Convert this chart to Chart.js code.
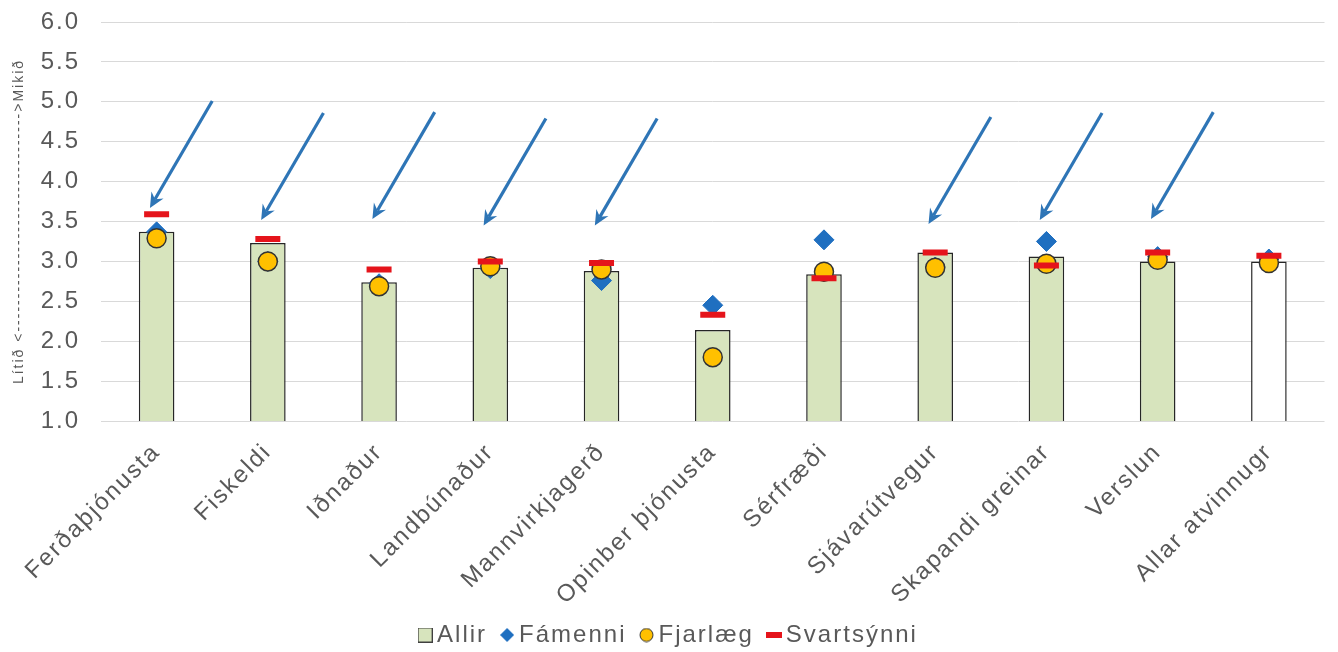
<!DOCTYPE html>
<html><head><meta charset="utf-8">
<script src="https://cdn.jsdelivr.net/npm/chart.js@4.4.1/dist/chart.umd.min.js"></script>
<style>
html,body{margin:0;padding:0;background:#fff;overflow:hidden;}
#wrap{position:relative;width:1343px;height:652px;}
</style></head><body>
<div id="wrap"><canvas id="chart"></canvas></div>
<script>
// ---------- DATA ----------
const categories = ['Ferðaþjónusta','Fiskeldi','Iðnaður','Landbúnaður','Mannvirkjagerð','Opinber þjónusta','Sérfræði','Sjávarútvegur','Skapandi greinar','Verslun','Allar atvinnugr'];
const seriesNames = ['Allir','Fámenni','Fjarlæg','Svartsýnni'];
const allir      = [3.37,3.23,2.74,2.92,2.88,2.14,2.84,3.11,3.06,3.00,3.00];
const famenni    = [3.37,3.00,2.72,2.91,2.76,2.45,3.27,2.93,3.25,3.06,3.03];
const fjarlaeg   = [3.29,3.00,2.69,2.94,2.90,1.80,2.87,2.92,2.97,3.02,2.98];
const svartsynni = [3.59,3.28,2.90,3.00,2.98,2.33,2.79,3.11,2.95,3.11,3.07];
const yTickLabels = ['1.0','1.5','2.0','2.5','3.0','3.5','4.0','4.5','5.0','5.5','6.0'];
const arrowCategories = ['Ferðaþjónusta','Fiskeldi','Iðnaður','Landbúnaður','Mannvirkjagerð','Sjávarútvegur','Skapandi greinar','Verslun'];
const arrowTips = [3.67,3.52,3.53,3.45,3.45,3.47,3.52,3.53];
const yAxisTitle = 'Lítið <' + '-'.repeat(33) + '>Mikið';

// ---------- STYLE ----------
const FONT = "'Liberation Sans', Arial, sans-serif";
const TXT = '#595959';
const GREEN = '#D7E4BD', WHITE = '#FFFFFF', BAR_BORDER = '#262626';
const BLUE = '#1F6FC0', ORANGE = '#FFC000', RED = '#E5141B', ARROW = '#2E75B6';
const X_AXIS_HEIGHT = 182;
const Y_AXIS_WIDTH = 101;

Chart.defaults.font.family = FONT;
Chart.defaults.color = TXT;

const yMin = parseFloat(yTickLabels[0]);
const yMax = parseFloat(yTickLabels[yTickLabels.length - 1]);
const yStep = parseFloat(yTickLabels[1]) - yMin;

function icon(kind){
  const c = document.createElement('canvas');
  const g = c.getContext('2d');
  if (kind === 'square'){ c.width = 15; c.height = 15; g.fillStyle = GREEN; g.fillRect(0.5,0.5,14,14); g.strokeStyle='#404040'; g.lineWidth=1; g.strokeRect(0.5,0.5,14,14); }
  if (kind === 'diamond'){ c.width = 14; c.height = 14; g.fillStyle = BLUE; g.beginPath(); g.moveTo(7,0); g.lineTo(14,7); g.lineTo(7,14); g.lineTo(0,7); g.closePath(); g.fill(); }
  if (kind === 'circle'){ c.width = 15; c.height = 15; g.fillStyle = ORANGE; g.strokeStyle = '#333'; g.lineWidth = 1; g.beginPath(); g.arc(7.5,7.5,6.5,0,Math.PI*2); g.fill(); g.stroke(); }
  if (kind === 'dash'){ c.width = 16; c.height = 6; g.fillStyle = RED; g.fillRect(0,0,16,6); }
  return c;
}
const legendIcons = [icon('square'), icon('diamond'), icon('circle'), icon('dash')];

const spacingPlugin = {
  id: 'spacing',
  beforeUpdate(c){ c.ctx.letterSpacing = '2px'; },
  beforeLayout(c){ c.ctx.letterSpacing = '2px'; },
  beforeDraw(c){ c.ctx.letterSpacing = '2px'; }
};

const arrowPlugin = {
  id: 'arrows',
  afterDatasetsDraw(chart){
    const ctx = chart.ctx, xs = chart.scales.x, ys = chart.scales.y;
    ctx.save();
    ctx.strokeStyle = ARROW; ctx.fillStyle = ARROW; ctx.lineWidth = 3.2;
    arrowCategories.forEach((name, k) => {
      const ci = categories.indexOf(name);
      const tip = arrowTips[k];
      const x1 = xs.getPixelForValue(ci + 0.5), y1 = ys.getPixelForValue(tip + 1.34);
      const x2 = xs.getPixelForValue(ci - 0.06), y2 = ys.getPixelForValue(tip);
      const a = Math.atan2(y2 - y1, x2 - x1);
      const L = 15, N = 10, W = 7;
      const bx = x2 - L*Math.cos(a), by = y2 - L*Math.sin(a);
      const nx = x2 - N*Math.cos(a), ny = y2 - N*Math.sin(a);
      ctx.beginPath(); ctx.moveTo(x1, y1); ctx.lineTo(nx, ny); ctx.stroke();
      ctx.beginPath();
      ctx.moveTo(x2, y2);
      ctx.lineTo(bx + W*Math.sin(a), by - W*Math.cos(a));
      ctx.lineTo(nx, ny);
      ctx.lineTo(bx - W*Math.sin(a), by + W*Math.cos(a));
      ctx.closePath(); ctx.fill();
    });
    ctx.restore();
  }
};

new Chart(document.getElementById('chart'), {
  type: 'bar',
  data: {
    labels: categories,
    datasets: [
      { label: seriesNames[0], data: allir, order: 4,
        backgroundColor: categories.map((c,i) => i === categories.length - 1 ? WHITE : GREEN),
        borderColor: BAR_BORDER, borderWidth: 1.5,
        categoryPercentage: 1, barPercentage: 0.32 },
      { type: 'line', label: seriesNames[1], data: famenni, order: 3, showLine: false,
        pointStyle: 'rectRot', pointRadius: 10, pointBackgroundColor: BLUE, pointBorderColor: BLUE, pointBorderWidth: 1 },
      { type: 'line', label: seriesNames[2], data: fjarlaeg, order: 2, showLine: false,
        pointStyle: 'circle', pointRadius: 9.5, pointBackgroundColor: ORANGE, pointBorderColor: '#333333', pointBorderWidth: 1.5 },
      { type: 'line', label: seriesNames[3], data: svartsynni, order: 1, showLine: false,
        pointStyle: 'line', pointRadius: 12.5, pointBorderColor: RED, pointBackgroundColor: RED, pointBorderWidth: 6 }
    ]
  },
  options: {
    responsive: true, maintainAspectRatio: false, animation: false, events: [],
    layout: { padding: { top: 22, right: 0, bottom: -5, left: 0 } },
    plugins: {
      tooltip: { enabled: false },
      legend: {
        position: 'bottom',
        labels: {
          usePointStyle: true, pointStyleWidth: 0.01, padding: 20,
          font: { size: 24, family: FONT }, color: TXT,
          generateLabels: (chart) => seriesNames.map((n, i) => ({
            text: n, datasetIndex: i, pointStyle: legendIcons[i],
            fillStyle: 'rgba(0,0,0,0)', strokeStyle: 'rgba(0,0,0,0)', lineWidth: 0,
            hidden: false, fontColor: TXT
          }))
        }
      }
    },
    scales: {
      x: {
        grid: { display: false, drawTicks: false }, border: { display: false },
        ticks: { autoSkip: false, minRotation: 45, maxRotation: 45, padding: 17, font: { size: 24 }, color: TXT },
        afterFit(s){ s.height = X_AXIS_HEIGHT; }
      },
      y: {
        min: yMin, max: yMax,
        grid: { color: '#D9D9D9', lineWidth: 1, drawTicks: false },
        border: { display: false },
        ticks: { stepSize: yStep, padding: 21, font: { size: 24 }, color: TXT,
                 callback: (v, i) => yTickLabels[i] },
        title: { display: true, text: yAxisTitle, color: TXT, font: { size: 14 }, padding: { top: 11, bottom: 0 } },
        afterFit(s){ s.width = Y_AXIS_WIDTH; s.paddingTop = 0; s.paddingBottom = 0; }
      }
    }
  },
  plugins: [spacingPlugin, arrowPlugin]
});
</script>
</body></html>
